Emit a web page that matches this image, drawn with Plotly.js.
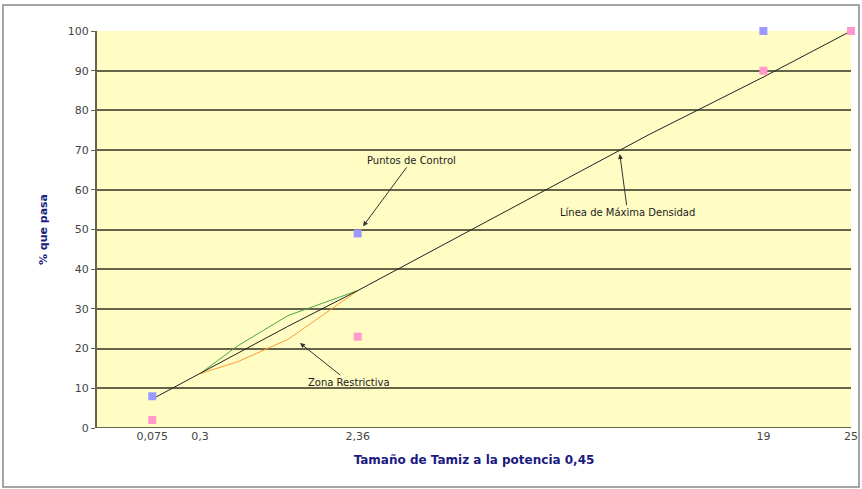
<!DOCTYPE html>
<html><head><meta charset="utf-8">
<script src="https://cdn.plot.ly/plotly-3.0.1.min.js"></script>
<style>html,body{margin:0;padding:0;background:#fff}#chart{width:862px;height:489px}</style>
</head><body><div id="chart"></div>
<script>
// Sieve sizes (mm) and the axis exponent
const exponent = 0.45;
const tickSizes = [0.075, 0.3, 2.36, 19, 25];
const tickLabels = ["0,075", "0,3", "2,36", "19", "25"];

// Maximum density line
const mdSizes = [0.075, 0.15, 0.3, 0.6, 1.18, 2.36, 4.75, 9.5, 12.5, 19, 25];
const mdPass  = [7.3, 10.0, 13.7, 18.7, 25.6, 34.6, 47.6, 65.1, 73.9, 88.4, 100];

// Control points
const ctrlSizes = [0.075, 2.36, 19, 25];
const ctrlUpper = [8, 49, 100, 100];
const ctrlLower = [2, 23, 90, 100];

// Restricted zone
const rzSizes = [0.3, 0.6, 1.18, 2.36];
const rzUpper = [13.7, 20.7, 28.3, 34.6];
const rzLower = [13.7, 16.7, 22.3, 34.6];

const tx = a => a.map(d => Math.pow(d, exponent));

const traces = [
  {x: tx(rzSizes), y: rzUpper, mode: 'lines', line: {color: '#4aa84a', width: 1}, name: 'Zona superior'},
  {x: tx(rzSizes), y: rzLower, mode: 'lines', line: {color: '#ff9933', width: 1}, name: 'Zona inferior'},
  {x: tx(mdSizes), y: mdPass, mode: 'lines', line: {color: '#222222', width: 1}, name: 'Máxima densidad'},
  {x: tx(ctrlSizes), y: ctrlLower, mode: 'markers', marker: {symbol: 'square', size: 8, color: '#ff99cc'}, name: 'Control inferior', cliponaxis: false},
  {x: tx(ctrlSizes.slice(0,3)), y: ctrlUpper.slice(0,3), mode: 'markers', marker: {symbol: 'square', size: 8, color: '#9999ff'}, name: 'Control superior', cliponaxis: false}
];

const FAM = 'DejaVu Sans, Arial, sans-serif';
const txtFont = {family: FAM, size: 10, color: '#222'};
const GRID = '#64644a';
const layout = {
  width: 862, height: 489,
  margin: {l: 97, r: 11, t: 31, b: 61},
  paper_bgcolor: '#ffffff',
  plot_bgcolor: '#fffcc4',
  showlegend: false,
  font: {family: FAM, size: 10, color: '#333'},
  xaxis: {
    range: [0, Math.pow(25, exponent)],
    tickvals: tx(tickSizes), ticktext: tickLabels,
    showgrid: false, zeroline: false, ticks: '',
    showline: false,
    tickfont: {size: 11, color: '#444', family: FAM},
    title: {text: 'Tamaño de Tamiz a la potencia 0,45', font: {size: 12, color: '#1a1a80', family: FAM, weight: 'bold'}, standoff: 13}
  },
  yaxis: {
    range: [0, 100], dtick: 10,
    showgrid: true, gridcolor: GRID, gridwidth: 2,
    zeroline: false, showline: true, linecolor: GRID, linewidth: 2,
    ticks: 'outside', ticklen: 4, tickcolor: GRID,
    tickfont: {size: 11, color: '#444', family: FAM},
    title: {text: '% que pasa', font: {size: 11, color: '#1a1a80', family: FAM, weight: 'bold'}, standoff: 18}
  },
  shapes: [
    {type: 'rect', xref: 'paper', yref: 'paper', x0: -0.1247, x1: 1.0106, y0: -0.1486, y1: 1.0655, line: {color: '#888', width: 1.5}},
    {type: 'line', xref: 'paper', yref: 'y', x0: 0, x1: 1, y0: 0, y1: 0, line: {color: GRID, width: 2}}
  ],
  annotations: [
    {x: tx([2.36])[0], y: 49, ax: 54, ay: -73, text: 'Puntos de Control', showarrow: true, arrowhead: 2, arrowsize: 1, arrowwidth: 1, arrowcolor: '#333', standoff: 9, font: txtFont},
    {x: 2.95, y: 69.5, ax: 8, ay: 60, text: 'Línea de Máxima Densidad', showarrow: true, arrowhead: 2, arrowsize: 1, arrowwidth: 1, arrowcolor: '#333', standoff: 2, font: txtFont},
    {x: 1.146, y: 21.4, ax: 49, ay: 39, text: 'Zona Restrictiva', showarrow: true, arrowhead: 2, arrowsize: 1, arrowwidth: 1, arrowcolor: '#333', standoff: 0, font: txtFont}
  ]
};
Plotly.newPlot('chart', traces, layout, {displayModeBar: false, staticPlot: true});
</script></body></html>
